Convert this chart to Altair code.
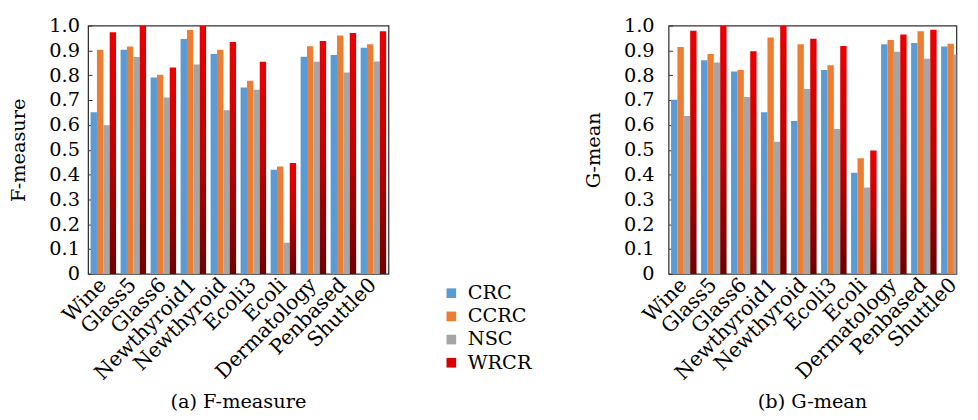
import altair as alt
import pandas as pd

DATASETS = ["Wine", "Glass5", "Glass6", "Newthyroid1", "Newthyroid",
            "Ecoli3", "Ecoli", "Dermatology", "Penbased", "Shuttle0"]
SERIES = ["CRC", "CCRC", "NSC", "WRCR"]
COLORS = ["#5B9BD5", "#ED7D31", "#A5A5A5", "#D80000"]

F_CRC = [0.651, 0.903, 0.791, 0.946, 0.886, 0.751, 0.420, 0.875, 0.882, 0.911]
F_CCRC = [0.903, 0.916, 0.802, 0.983, 0.903, 0.778, 0.433, 0.917, 0.960, 0.925]
F_NSC = [0.599, 0.874, 0.711, 0.844, 0.659, 0.742, 0.125, 0.855, 0.811, 0.856]
F_WRCR = [0.973, 1.000, 0.831, 1.000, 0.934, 0.855, 0.447, 0.938, 0.970, 0.977]

G_CRC = [0.702, 0.861, 0.815, 0.651, 0.616, 0.821, 0.407, 0.925, 0.930, 0.916]
G_CCRC = [0.914, 0.886, 0.821, 0.952, 0.925, 0.840, 0.466, 0.942, 0.977, 0.927]
G_NSC = [0.636, 0.852, 0.713, 0.532, 0.745, 0.584, 0.348, 0.895, 0.867, 0.884]
G_WRCR = [0.979, 1.000, 0.897, 1.000, 0.947, 0.918, 0.497, 0.964, 0.984, 0.977]

Y_TICKS = [0, 0.1, 0.2, 0.3, 0.4, 0.5, 0.6, 0.7, 0.8, 0.9, 1.0]
FONT = "DejaVu Serif"
FS = 20
XFS = 21


def make_df(lists):
    rows = []
    for s, vals in zip(SERIES, lists):
        for d, v in zip(DATASETS, vals):
            rows.append({"dataset": d, "series": s, "value": v})
    return pd.DataFrame(rows)


GRAD = alt.LinearGradient(
    gradient="linear",
    stops=[alt.GradientStop(color="#EC0000", offset=0),
           alt.GradientStop(color="#C00000", offset=0.5),
           alt.GradientStop(color="#6E0000", offset=1)],
    x1=0, x2=0, y1=0, y2=1,
)


def panel(df, ytitle, caption, label_pad, width, span):
    base = alt.Chart(df).encode(
        x=alt.X("dataset:N", sort=DATASETS,
                scale=alt.Scale(paddingInner=0.15, paddingOuter=0.08, range=[0, span]),
                axis=alt.Axis(title=None, labelAngle=-45, labelAlign="right",
                              labelBaseline="middle", ticks=False, domain=False,
                              labelPadding=8, labelFont=FONT, labelFontSize=XFS,
                              labelColor="#000000")),
        xOffset=alt.XOffset("series:N", sort=SERIES,
                            scale=alt.Scale(domain=SERIES, paddingInner=0, paddingOuter=0)),
    )
    plain = base.transform_filter(alt.datum.series != "WRCR").mark_bar(clip=True).encode(
        y=alt.Y("value:Q", scale=alt.Scale(domain=[0, 1], nice=False),
                axis=alt.Axis(title=ytitle, values=Y_TICKS,
                              labelExpr="datum.value == 0 ? '0' : format(datum.value, '.1f')",
                              ticks=False, domain=False, grid=False,
                              labelPadding=label_pad, labelFont=FONT, labelFontSize=FS,
                              labelColor="#000000", titleFont=FONT, titleFontSize=FS,
                              titleFontWeight="normal", titleColor="#000000",
                              titlePadding=21)),
        color=alt.Color("series:N", scale=alt.Scale(domain=SERIES, range=COLORS),
                        legend=alt.Legend(title=None, orient="none", legendX=366, legendY=267,
                                          symbolType="square", symbolSize=100,
                                          symbolStrokeWidth=0, labelFont=FONT,
                                          labelFontSize=FS, labelColor="#000000",
                                          rowPadding=4, labelOffset=7)),
    )
    grad = base.transform_filter(alt.datum.series == "WRCR").mark_bar(color=GRAD, clip=True).encode(
        y=alt.Y("value:Q", scale=alt.Scale(domain=[0, 1], nice=False),
                axis=alt.Axis(orient="left", offset=-4, tickSize=4, values=Y_TICKS,
                              labels=False, domain=False, grid=False, title=None,
                              tickColor="#333333")),
    )
    return alt.layer(plain, grad).resolve_axis(y="independent").properties(
        width=width, height=257,
        title=alt.TitleParams(caption, orient="bottom", anchor="middle", frame="group",
                              font=FONT, fontSize=FS, fontWeight="normal",
                              color="#000000", offset=10),
    )


left = panel(make_df([F_CRC, F_CCRC, F_NSC, F_WRCR]), "F-measure", "(a)  F-measure", 9, 311, 311)
right = panel(make_df([G_CRC, G_CCRC, G_NSC, G_WRCR]), "G-mean", "(b)  G-mean", 15, 298, 311)

chart = alt.hconcat(left, right, spacing=200).properties(
    padding={"left": 0, "top": 0, "right": 0, "bottom": 0},
).configure_view(stroke="#333333", strokeWidth=1.3)

chart.save("out.html", embed_options={"renderer": "svg", "actions": False})
